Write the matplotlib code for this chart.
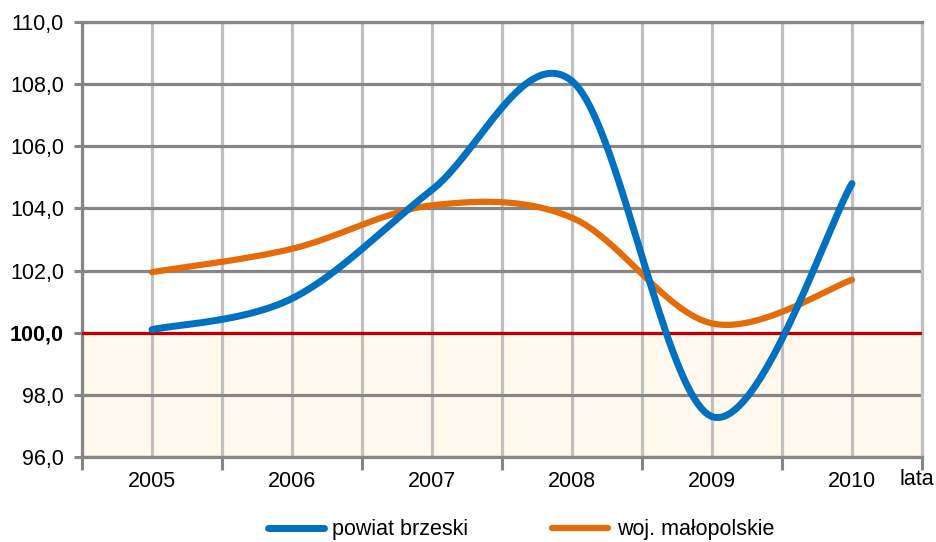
import numpy as np
import matplotlib.pyplot as plt

plt.rcParams['font.family'] = ['Liberation Sans', 'DejaVu Sans']

years = ['2005', '2006', '2007', '2008', '2009', '2010']
powiat_brzeski = [100.1, 101.1, 104.6, 108.1, 97.3, 104.8]
woj_malopolskie = [101.95, 102.7, 104.1, 103.7, 100.3, 101.7]
y_ticks = [96, 98, 100, 102, 104, 106, 108, 110]
y_labels = ['96,0', '98,0', '100,0', '102,0', '104,0', '106,0', '108,0', '110,0']


def smooth(xs, ys, sx=140.0, sy=31.0, n=40):
    # Excel-like smoothed line: cubic Bezier with Catmull-Rom control points,
    # computed in a screen-like scaling so the curve shape matches
    P = np.column_stack([np.asarray(xs, float) * sx, np.asarray(ys, float) * sy])
    out = []
    for i in range(len(P) - 1):
        p0 = P[i - 1] if i > 0 else P[i]
        p1, p2 = P[i], P[i + 1]
        p3 = P[i + 2] if i + 2 < len(P) else P[i + 1]
        c1 = p1 + (p2 - p0) / 6
        c2 = p2 - (p3 - p1) / 6
        t = np.linspace(0, 1, n)[:, None]
        seg = ((1 - t) ** 3) * p1 + 3 * ((1 - t) ** 2) * t * c1 + 3 * (1 - t) * t ** 2 * c2 + t ** 3 * p2
        out.append(seg if i == 0 else seg[1:])
    out = np.vstack(out)
    return out[:, 0] / sx, out[:, 1] / sy


fig = plt.figure(figsize=(9.36, 5.42), dpi=100)
ax = fig.add_axes([82 / 936, 1 - 457 / 542, 840 / 936, 435 / 542])

x = np.arange(len(years))
ax.set_xlim(-0.5, 5.5)
ax.set_ylim(96, 110)

ax.axhspan(96, 100, color='#FEF9EC', zorder=0)

ax.set_xticks(x)
ax.set_xticklabels(years)
ax.set_xticks(np.arange(-0.5, 6, 1), minor=True)
ax.set_yticks(y_ticks)
ax.set_yticklabels(y_labels)
for lab in ax.get_yticklabels():
    if lab.get_text() == '100,0':
        lab.set_fontweight('bold')

ax.tick_params(axis='x', which='major', length=0, pad=10, labelsize=15.5)
ax.tick_params(axis='x', which='minor', length=9, width=2.2, color='#868686')
ax.tick_params(axis='y', which='major', length=6, width=2.2, color='#868686', pad=7, labelsize=15.5)

ax.grid(axis='x', which='both', color='#C0C0C0', lw=2.3, zorder=1)
ax.grid(axis='y', which='major', color='#868686', lw=2.3, zorder=1)
ax.set_axisbelow(True)

for side in ['left', 'bottom', 'top']:
    ax.spines[side].set_color('#868686')
    ax.spines[side].set_linewidth(2.3)
ax.spines['right'].set_color('#C0C0C0')
ax.spines['right'].set_linewidth(2.3)

ax.axhline(100, color='#C00000', lw=2.3, zorder=3)

xs, ys = smooth(x, powiat_brzeski)
ax.plot(xs, ys, color='#0070C0', lw=5, solid_capstyle='round', zorder=5, label='powiat brzeski')
xs, ys = smooth(x, woj_malopolskie)
ax.plot(xs, ys, color='#E36C09', lw=4.5, solid_capstyle='round', zorder=4, label='woj. małopolskie')

ax.annotate('lata', xy=(5.5, 96), xycoords='data', xytext=(-4, -16), textcoords='offset points',
            ha='center', va='center', fontsize=15.5, annotation_clip=False)

handles, labels = ax.get_legend_handles_labels()
fig.legend(handles, labels, loc='center', bbox_to_anchor=(521 / 936, 1 - 530 / 542), ncol=2,
           frameon=False, fontsize=15.5, handlelength=2.6, handletextpad=0.4, columnspacing=3.9)

fig.savefig('out.png', dpi=100)
